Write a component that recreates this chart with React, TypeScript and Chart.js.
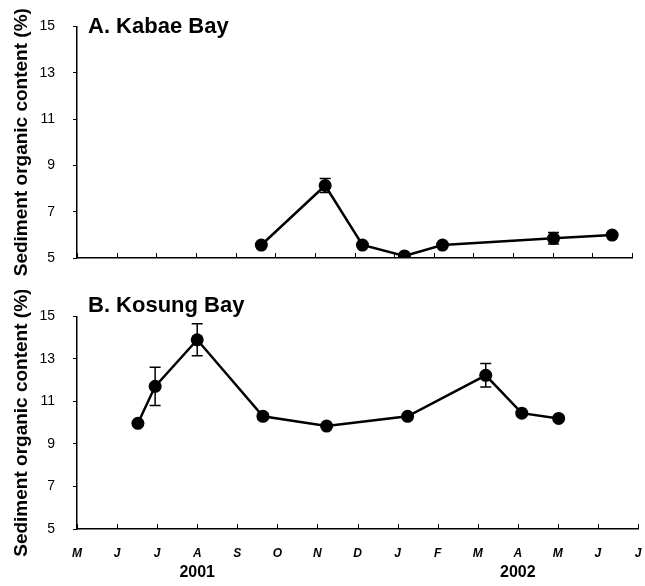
import React, { useEffect, useRef } from 'react';
import { Chart, registerables } from 'chart.js';
Chart.register(...registerables);

const monthLabels = ['M', 'J', 'J', 'A', 'S', 'O', 'N', 'D', 'J', 'F', 'M', 'A', 'M', 'J', 'J'];
const yearLabels = ['2001', '2002'];
const yearMonthIndex = [3, 11];
const yTickMin = 5;
const yTickMax = 15;
const yTickStep = 2;

const kabaeX = [4.65, 6.26, 7.2, 8.26, 9.22, 12.02, 13.5];
const kabaeY = [5.56, 8.13, 5.56, 5.09, 5.56, 5.85, 5.99];
const kabaeErr = [0, 0.3, 0, 0, 0, 0.25, 0];

const kosungX = [1.52, 1.95, 3.0, 4.64, 6.23, 8.25, 10.2, 11.1, 12.02];
const kosungY = [9.97, 11.71, 13.9, 10.3, 9.84, 10.3, 12.23, 10.45, 10.2];
const kosungErr = [0, 0.9, 0.75, 0.15, 0, 0, 0.55, 0, 0];

const yTitle = 'Sediment organic content (%)';
const FONT = 'Arial, "Liberation Sans", sans-serif';

const decorPlugin = {
  id: 'decor',
  beforeDatasetsDraw(chart: any, _a: any, opts: any) {
    const ctx = chart.ctx;
    const xs = chart.scales.x;
    const ys = chart.scales.y;
    ctx.save();
    ctx.strokeStyle = '#000';
    ctx.lineWidth = 1.5;
    (opts.errs || []).forEach((e: number, i: number) => {
      if (!e) return;
      const x = xs.getPixelForValue(opts.xv[i]);
      const y1 = ys.getPixelForValue(opts.yv[i] + e);
      const y2 = ys.getPixelForValue(opts.yv[i] - e);
      ctx.beginPath();
      ctx.moveTo(x, y1); ctx.lineTo(x, y2);
      ctx.moveTo(x - 5.5, y1); ctx.lineTo(x + 5.5, y1);
      ctx.moveTo(x - 5.5, y2); ctx.lineTo(x + 5.5, y2);
      ctx.stroke();
    });
    ctx.restore();
  },
  afterDraw(chart: any, _a: any, opts: any) {
    const ctx = chart.ctx;
    const xs = chart.scales.x;
    const area = chart.chartArea;
    ctx.save();
    ctx.strokeStyle = '#000';
    ctx.lineWidth = 1;
    for (let i = 0; i < monthLabels.length; i++) {
      const x = Math.round(xs.getPixelForValue(i)) + 0.5;
      ctx.beginPath();
      ctx.moveTo(x, area.bottom);
      ctx.lineTo(x, area.bottom - 5);
      ctx.stroke();
    }
    ctx.fillStyle = '#000';
    ctx.font = 'bold 22px ' + FONT;
    ctx.textAlign = 'left';
    ctx.textBaseline = 'alphabetic';
    ctx.fillText(opts.title, area.left + 11, opts.titleY);
    if (opts.years) {
      ctx.font = 'bold 16px ' + FONT;
      ctx.textAlign = 'center';
      ctx.textBaseline = 'middle';
      yearLabels.forEach((t, i) => {
        ctx.fillText(t, xs.getPixelForValue(yearMonthIndex[i]), opts.yearY);
      });
    }
    ctx.restore();
  },
};

type PanelProps = {
  top: number; height: number; padTop: number; padRight: number; xHeight: number;
  title: string; titleY: number; xv: number[]; yv: number[]; errs: number[];
  showMonths: boolean; yearY?: number;
};

function Panel(p: PanelProps) {
  const ref = useRef<HTMLCanvasElement>(null);
  useEffect(() => {
    const chart = new Chart(ref.current as HTMLCanvasElement, {
      type: 'line',
      data: {
        datasets: [{
          data: p.xv.map((x, i) => ({ x, y: p.yv[i] })),
          borderColor: '#000',
          borderWidth: 2.5,
          pointRadius: 6.5,
          pointBackgroundColor: '#000',
          pointBorderWidth: 0,
          tension: 0,
        }],
      },
      options: {
        responsive: false,
        animation: false,
        layout: { padding: { top: p.padTop, right: p.padRight, left: 0, bottom: 0 } },
        plugins: {
          legend: { display: false },
          tooltip: { enabled: false },
          decor: { title: p.title, titleY: p.titleY, xv: p.xv, yv: p.yv, errs: p.errs, years: p.showMonths, yearY: p.yearY },
        } as any,
        scales: {
          x: {
            type: 'linear',
            min: 0,
            max: monthLabels.length - 1,
            grid: { display: false },
            border: { display: true, color: '#000', width: 1.5 },
            ticks: {
              display: p.showMonths,
              stepSize: 1,
              autoSkip: false,
              maxRotation: 0,
              padding: 9,
              color: '#000',
              font: { family: FONT, size: 12, weight: 'bold', style: 'italic' },
              callback: (v: any) => monthLabels[v as number] ?? '',
            },
            afterFit: (s: any) => { s.height = p.xHeight; s.paddingLeft = 0; s.paddingRight = 0; },
          },
          y: {
            min: yTickMin,
            max: yTickMax,
            grid: { display: true, drawOnChartArea: false, drawTicks: true, tickLength: 4, color: '#000' },
            border: { display: true, color: '#000', width: 1.5 },
            ticks: {
              stepSize: yTickStep,
              padding: 18,
              color: '#000',
              font: { family: FONT, size: 14 },
            },
            title: {
              display: true,
              text: yTitle,
              color: '#000',
              font: { family: FONT, size: 19, weight: 'bold' },
              padding: { top: 10, bottom: 0 },
            },
            afterFit: (s: any) => { s.width = 77; },
          },
        },
      } as any,
      plugins: [decorPlugin as any],
    });
    return () => chart.destroy();
  }, []);
  return (
    <canvas
      ref={ref}
      width={645}
      height={p.height}
      style={{ position: 'absolute', left: 0, top: p.top, width: 645, height: p.height }}
    />
  );
}

export default function App() {
  return (
    <div style={{ position: 'absolute', left: 0, top: 0, width: 645, height: 586, background: '#fff' }}>
      <Panel top={0} height={290} padTop={25} padRight={13} xHeight={32}
        title="A. Kabae Bay" titleY={33} xv={kabaeX} yv={kabaeY} errs={kabaeErr} showMonths={false} />
      <Panel top={290} height={296} padTop={26} padRight={7} xHeight={57}
        title="B. Kosung Bay" titleY={22} xv={kosungX} yv={kosungY} errs={kosungErr} showMonths={true} yearY={283} />
    </div>
  );
}
